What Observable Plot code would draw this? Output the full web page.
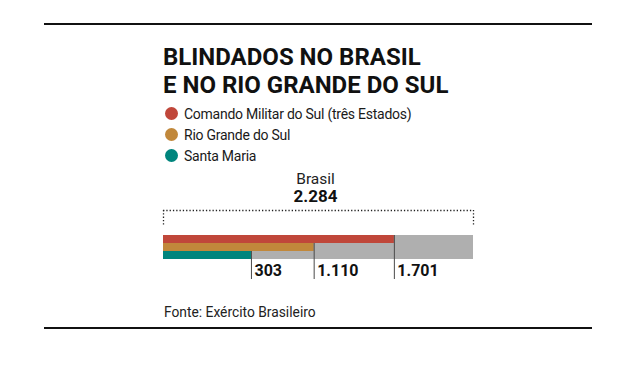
<!DOCTYPE html>
<html>
<head>
<meta charset="utf-8">
<script src="https://cdn.jsdelivr.net/npm/d3@7"></script>
<script src="https://cdn.jsdelivr.net/npm/@observablehq/plot@0.6"></script>
<style>
  html, body { margin: 0; padding: 0; background: #fff; }
  body { width: 640px; height: 368px; position: relative; overflow: hidden; font-family: Roboto, "Noto Sans", sans-serif; color: #1a1a1a; }
  .rule { position: absolute; left: 44px; width: 548px; height: 2px; background: #111; }
  #title { position: absolute; left: 163px; top: 44px; margin: 0; font-size: 24px; line-height: 27.5px; font-weight: 700; color: #111; }
  #legend { position: absolute; left: 165px; top: 103px; font-size: 14px; letter-spacing: -0.25px; }
  .item { display: flex; align-items: center; height: 21px; }
  .sw { width: 13px; height: 13px; border-radius: 50%; margin-right: 6px; flex: none; }
  #chart { position: absolute; left: 0; top: 160px; }
  #source { position: absolute; left: 164px; top: 304px; font-size: 13.8px; color: #222; }
</style>
</head>
<body>
<div class="rule" style="top:23px"></div>
<h2 id="title">BLINDADOS NO BRASIL<br>E NO RIO GRANDE DO SUL</h2>
<div id="legend"></div>
<div id="chart"></div>
<div id="source">Fonte: Exército Brasileiro</div>
<div class="rule" style="top:327px"></div>
<script>
// Data
const totalLabel = "Brasil";
const total = 2284;
const categorias = ["Comando Militar do Sul (três Estados)", "Rio Grande do Sul", "Santa Maria"];
const valores = [1701, 1110, 303];          // printed values
const comprimentos = [1701, 1110, 648];     // bar lengths as drawn in the picture
const cores = ["#c0473a", "#c1883b", "#00857d"];
const corFundo = "#afafaf";

const fmt = d3.formatLocale({decimal: ",", thousands: ".", grouping: [3], currency: ["R$", ""]}).format(",d");

// Legend
const legend = document.getElementById("legend");
categorias.forEach((c, i) => {
  const row = document.createElement("div");
  row.className = "item";
  row.innerHTML = `<span class="sw" style="background:${cores[i]}"></span><span>${c}</span>`;
  legend.appendChild(row);
});

const rows = categorias.map((c, i) => ({categoria: c, valor: valores[i], comprimento: comprimentos[i]}));
const last = categorias[categorias.length - 1];

const chart = Plot.plot({
  width: 640,
  height: 130,
  marginLeft: 163,
  marginRight: 167,
  marginTop: 74,
  marginBottom: 31,
  x: {domain: [0, total], axis: null},
  y: {domain: categorias, axis: null, padding: 0},
  style: {fontFamily: "Roboto, sans-serif", color: "#111", background: "transparent"},
  marks: [
    Plot.barX(rows, {y: "categoria", x1: 0, x2: () => total, fill: corFundo}),
    Plot.barX(rows, {y: "categoria", x1: 0, x2: "comprimento", fill: (d, i) => cores[i]}),
    Plot.ruleX(rows, {x: "comprimento", y1: "categoria", y2: () => last, insetBottom: -20, stroke: "#4a4a4a", strokeWidth: 1}),
    Plot.text(rows, {x: "comprimento", frameAnchor: "bottom", text: d => fmt(d.valor), textAnchor: "start", dx: 3, dy: 16.5, fontSize: 16, fontWeight: 700, fill: "#111"}),
    // bracket
    Plot.ruleX([0, total], {insetTop: -24, insetBottom: 33, stroke: "#222", strokeWidth: 1.3, strokeDasharray: "1.3,2"}),
    Plot.ruleY([total], {y: null, x1: 0, x2: d => d, dy: -36.5, stroke: "#222", strokeWidth: 1.3, strokeDasharray: "1.3,2"}),
    Plot.text([total], {x: d => d / 2, frameAnchor: "top", text: () => totalLabel, dx: -3, dy: -62, fontSize: 15.5, fill: "#222"}),
    Plot.text([total], {x: d => d / 2, frameAnchor: "top", text: d => fmt(d), dx: -3, dy: -44.5, fontSize: 17, fontWeight: 700, fill: "#111"})
  ]
});
document.getElementById("chart").appendChild(chart);
</script>
</body>
</html>
